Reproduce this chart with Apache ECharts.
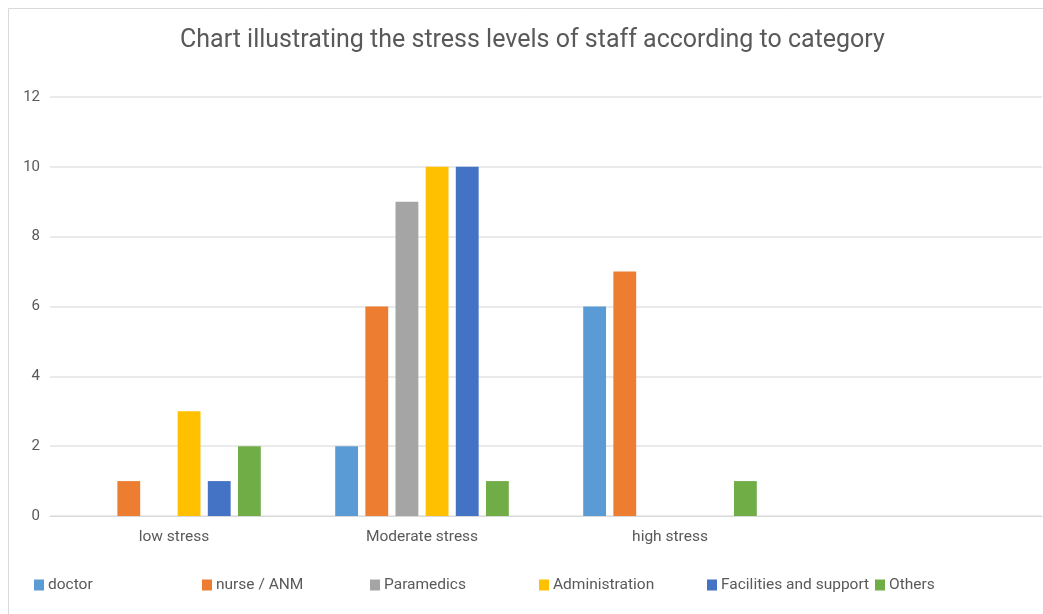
<!DOCTYPE html>
<html>
<head>
<meta charset="utf-8">
<script src="https://cdn.jsdelivr.net/npm/echarts@6/dist/echarts.min.js"></script>
<style>
  html, body { margin: 0; padding: 0; background: #fff; }
  #chart { width: 1043px; height: 614px; }
</style>
</head>
<body>
<div id="chart"></div>
<script>
// Stress level categories (the fourth slot is left blank on the axis)
const categories = ['low stress', 'Moderate stress', 'high stress', ''];

// Staff groups and their counts per stress level
const staffGroups = ['doctor', 'nurse / ANM', 'Paramedics', 'Administration', 'Facilities and support', 'Others'];
const doctor = [0, 2, 6, null];
const nurse = [1, 6, 7, null];
const paramedics = [0, 9, 0, null];
const administration = [3, 10, 0, null];
const facilities = [1, 10, 0, null];
const others = [2, 1, 1, null];

const yTicks = { min: 0, max: 12, interval: 2 };

const groupValues = [doctor, nurse, paramedics, administration, facilities, others];
const groupColors = ['#5B9BD5', '#ED7D31', '#A5A5A5', '#FFC000', '#4472C4', '#70AD47'];
const legendLefts = [34, 202, 370, 539, 707, 875];

const textColor = '#595959';
const fontFamily = 'Roboto, "Liberation Sans", sans-serif';

const chart = echarts.init(document.getElementById('chart'), null, { renderer: 'canvas' });

const series = staffGroups.map((name, i) => ({
  name: name,
  type: 'bar',
  data: groupValues[i].map(v => (v === 0 ? null : v)),
  itemStyle: { color: groupColors[i] },
  barGap: '32%',
  barCategoryGap: '30%'
}));

const legends = staffGroups.map((name, i) => ({
  data: [name],
  left: legendLefts[i],
  top: 577,
  itemWidth: 10,
  itemHeight: 11,
  itemGap: 0,
  icon: 'rect',
  padding: 0,
  selectedMode: false,
  textStyle: { color: textColor, fontSize: 15.5, fontFamily: fontFamily, padding: [0, 0, 0, -1] }
}));

chart.setOption({
  animation: false,
  backgroundColor: '#ffffff',
  title: {
    text: 'Chart illustrating the stress levels of staff according to category',
    left: 175,
    top: 23,
    textStyle: { color: textColor, fontSize: 25, fontWeight: 'normal', fontFamily: fontFamily }
  },
  legend: legends,
  grid: { left: 50, right: 1, top: 97, bottom: 98, containLabel: false },
  xAxis: {
    type: 'category',
    data: categories,
    axisLine: { lineStyle: { color: '#d9d9d9', width: 1 } },
    axisTick: { show: false },
    axisLabel: { color: textColor, fontSize: 15.5, fontFamily: fontFamily, margin: 13 }
  },
  yAxis: {
    type: 'value',
    min: yTicks.min,
    max: yTicks.max,
    interval: yTicks.interval,
    axisLine: { show: false },
    axisTick: { show: false },
    axisLabel: { color: textColor, fontSize: 15, fontFamily: fontFamily, margin: 10 },
    splitLine: { lineStyle: { color: '#e3e3e3', width: 1.5 } }
  },
  graphic: [{
    type: 'rect',
    shape: { x: 8.5, y: 8.5, width: 1200, height: 800 },
    style: { fill: 'none', stroke: '#d9d9d9', lineWidth: 1 },
    silent: true,
    z: -1
  }],
  series: series
});
</script>
</body>
</html>
